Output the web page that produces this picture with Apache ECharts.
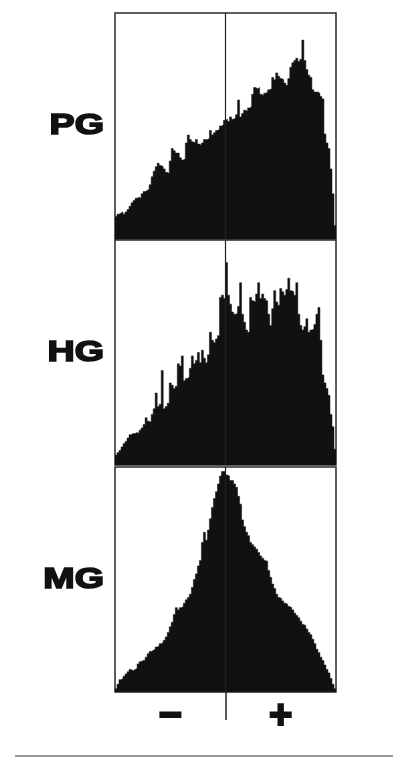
<!DOCTYPE html>
<html>
<head>
<meta charset="utf-8">
<script src="https://cdn.jsdelivr.net/npm/echarts@6/dist/echarts.min.js"></script>
<style>
  html, body { margin: 0; padding: 0; background: #fff; }
  #main { width: 394px; height: 760px; }
</style>
</head>
<body>
<div id="main"></div>
<script>
// histogram channels, counts as % of panel height
const pgCounts = [
  10, 11, 11.5, 12, 11, 12, 13, 14.5, 16, 17,
  18, 18.5, 18, 20, 21, 21.5, 22, 24, 27.5, 30,
  32, 33.5, 32.5, 32, 31, 29.5, 29, 34.5, 40, 39,
  38, 38, 36, 35, 35.5, 42.5, 46, 44, 43, 42.5,
  44, 42, 41.5, 42.5, 44, 44, 44.5, 48, 46, 47,
  48, 48.5, 50, 50.5, 52.5, 53, 52, 54, 53, 53.5,
  55, 61.5, 54, 55.5, 57, 56.5, 58, 58.5, 64, 67,
  66.5, 67, 64, 63.5, 64.5, 65, 66, 66.5, 71.5, 70.5,
  73.5, 72, 71, 70.5, 69, 68, 71, 76, 78, 79,
  80, 78.5, 79.5, 88, 79, 75, 72.5, 71.5, 66, 65,
  65, 64.5, 63, 62, 46.5, 42.5, 40, 31, 20, 6
];
const hgCounts = [
  4.5, 5.5, 6.5, 8, 9.5, 10.5, 12, 13.5, 14, 14,
  14.5, 14, 15.5, 16.5, 18, 21, 19.5, 19, 22.5, 25,
  32, 26, 27, 42, 25, 26, 27.5, 36.5, 35.5, 34,
  35, 45, 44, 48.5, 37.5, 38.5, 39, 43, 48.5, 45,
  46.5, 50, 45.5, 51, 47.5, 45.5, 49, 59, 55.5, 54.5,
  56, 57.5, 74.5, 75.5, 74, 90, 75.5, 71.5, 68, 67,
  67.5, 70.5, 81, 67, 63.5, 60, 59, 74.5, 73, 72.5,
  76, 81, 74, 76, 74, 73, 67, 62, 69.5, 77.5,
  72.5, 71, 78.5, 77, 75.5, 78, 83, 77.5, 77, 75.5,
  81, 67, 62, 60, 61.5, 65, 59, 60, 60.5, 62.5,
  67, 70, 55.5, 40, 36.5, 34, 31, 22.5, 17, 7
];
const mgCounts = [
  1.5, 3.5, 5.5, 6, 7, 8, 9, 10, 9.5, 10,
  10.5, 12.5, 13.5, 14, 14, 15.5, 17, 18, 18.5, 19,
  20, 20.5, 21.5, 22, 23, 24.5, 26.5, 29, 31, 34.5,
  37.5, 36.5, 37.5, 38, 39.5, 41, 42, 43.5, 46.5, 50,
  52.5, 56, 58.5, 66.5, 71, 67.5, 72, 77, 82, 86,
  89, 92.5, 96, 98, 98, 96.5, 96, 94, 94, 92.5,
  91, 87, 83.5, 76.5, 73.5, 71, 69.5, 66.5, 65.5, 64.5,
  63.5, 62, 60.5, 59.5, 58.5, 58, 54, 51, 48, 46,
  43.5, 42, 41.5, 40.5, 39.5, 39, 38, 37.5, 36.5, 35,
  34, 33, 31.5, 30, 29.5, 28, 26.5, 25.5, 23.5, 21.5,
  19, 17.5, 15.5, 14, 12, 10, 8.5, 6, 3.5, 1.5
];
const panelLabels = ['PG', 'HG', 'MG'];
const signLabels = ['−', '+'];
const channels = pgCounts.length;
const center = channels / 2;

const panels = [pgCounts, hgCounts, mgCounts];
const gridTops = [13, 240, 467];
const gridHeights = [226, 225, 225];

// step points: channel i spans [i, i+1]
function toSteps(arr) {
  const pts = arr.map((v, i) => [i, v]);
  pts.push([arr.length, arr[arr.length - 1]]);
  return pts;
}

let chart = echarts.init(document.getElementById('main'));

let option = {
  backgroundColor: '#fff',
  animation: false,
  grid: gridTops.map((t, k) => ({
    left: 115,
    width: 221,
    top: t,
    height: gridHeights[k],
    show: true,
    borderColor: '#2a2a2a',
    borderWidth: 1.5,
    backgroundColor: 'transparent'
  })),
  xAxis: panels.map((p, k) => ({
    type: 'value',
    gridIndex: k,
    min: 0,
    max: channels,
    interval: center,
    axisLine: { show: false },
    splitLine: { show: false },
    axisTick: k === 2 ? {
      show: true,
      customValues: [center],
      length: 28,
      lineStyle: { color: '#222', width: 1.5 }
    } : { show: false },
    axisLabel: k === 2 ? {
      show: true,
      customValues: [center / 2, center * 1.5],
      formatter: v => (v < center ? signLabels[0] : signLabels[1]),
      fontFamily: 'Liberation Sans',
      fontWeight: 'bold',
      fontSize: 40,
      color: '#111',
      textBorderColor: '#111',
      textBorderWidth: 2,
      margin: 5
    } : { show: false }
  })),
  yAxis: panels.map((p, k) => ({
    type: 'value',
    gridIndex: k,
    min: 0,
    max: 100,
    show: false
  })),
  graphic: panelLabels.map((name, k) => ({
    type: 'text',
    x: 104,
    y: gridTops[k] + gridHeights[k] / 2,
    scaleX: 1.3,
    style: {
      text: name,
      font: 'bold 29px "Liberation Sans"',
      fill: '#111',
      stroke: '#111',
      lineWidth: 1.6,
      textAlign: 'right',
      textVerticalAlign: 'middle'
    }
  })).concat([{
    type: 'line',
    shape: { x1: 15, y1: 756, x2: 393, y2: 756 },
    style: { stroke: '#333', lineWidth: 1 }
  }]),
  series: panels.map((p, k) => ({
    type: 'line',
    name: panelLabels[k],
    xAxisIndex: k,
    yAxisIndex: k,
    step: 'end',
    symbol: 'none',
    data: toSteps(p),
    lineStyle: { width: 0.5, color: '#111' },
    areaStyle: { color: '#111', opacity: 1 },
    markLine: {
      silent: true,
      symbol: 'none',
      label: { show: false },
      lineStyle: { color: '#222', width: 1.2, type: 'solid' },
      data: [{ xAxis: center }]
    }
  }))
};

chart.setOption(option);
window.onresize = function () {
  chart.resize();
};
</script>
</body>
</html>
